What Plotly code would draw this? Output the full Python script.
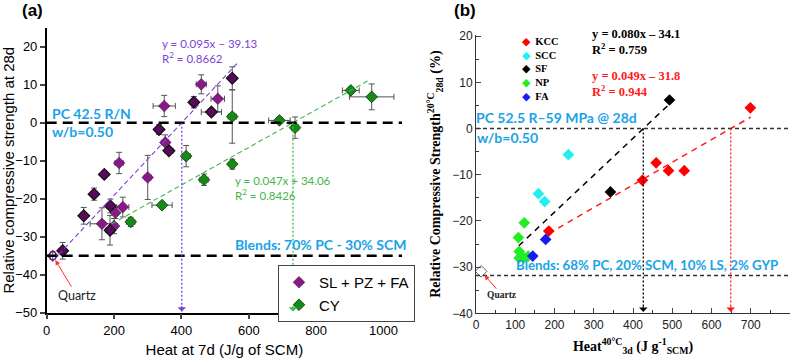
import plotly.graph_objects as go

W, H = 800, 359

# ---------------- Panel (a) data ----------------
# SL + PZ + FA (lighter markers)
slpf_x = [164, 200, 204, 215, 226, 300, 349, 352, 459, 508]
slpf_y = [-26.6, -27.2, -23.7, -10.6, -22.2, -14.4, 4.4, -5.2, 10.1, 6.3]
slpf_xerr = [35, 10, 8, 12, 18, 10, 33, 10, 15, 20]
slpf_yerr = [4.2, 2.0, 1.5, 2.8, 2.6, 5.8, 2.8, 2.0, 2.5, 3.4]
# SL + PZ + FA (darker markers)
slpf2_x = [47.5, 110, 140.5, 171, 188, 189, 333.5, 363, 437, 489, 551]
slpf2_y = [-33.7, -24.5, -18.8, -13.6, -28.3, -21.9, -1.8, -7.4, 5.4, 2.8, 11.7]
slpf2_xerr = [8, 8, 8, 6, 12, 10, 8, 12, 8, 30, 8]
slpf2_yerr = [2.2, 2.2, 1.6, 0.8, 3.9, 1.8, 1.3, 0.8, 1.5, 0.8, 3.0]
# CY
cy_x = [249.5, 342.5, 414, 467, 551, 551, 691, 737.5, 903, 965]
cy_y = [-26.1, -21.7, -8.8, -15.0, -10.9, 1.6, 0.6, -1.3, 8.5, 6.8]
cy_xerr = [12, 30, 12, 12, 5, 12, 32, 10, 25, 66]
cy_yerr = [1.2, 0.8, 2.8, 1.5, 1.3, 7.0, 0.8, 2.8, 0.8, 3.4]
# Quartz
qa_x = [18]
qa_y = [-35.0]
qa_xerr = [8]
qa_yerr = [1.0]

# fitted lines (as drawn): slope, intercept, x-range
fit_a_slope = [0.095, 0.0495]
fit_a_intercept = [-38.1, -36.2]
fit_a_xrange = [[20, 571], [193, 953]]
fit_a_labels = ["y = 0.095x – 39.13<br>R<sup>2</sup> = 0.8662",
                "y = 0.047x + 34.06<br>R<sup>2</sup> = 0.8426"]
a_ref_levels = [0, -35]

# ---------------- Panel (b) data ----------------
b_groups = ["KCC", "SCC", "SF", "NP", "FA"]
kcc_x = [185.5, 424, 459, 490.6, 530.6, 699]
kcc_y = [-22.2, -11.2, -7.4, -9.1, -9.1, 4.5]
scc_x = [159, 175, 235.5]
scc_y = [-14.1, -15.8, -5.65]
sf_x = [342.5, 493]
sf_y = [-13.7, 6.2]
np_x = [108, 110, 110, 122, 123, 133]
np_y = [-23.6, -26.6, -28.0, -28.0, -20.4, -27.6]
fa_x = [144.6, 177.5]
fa_y = [-27.6, -24.0]
qb_x = [13]
qb_y = [-30.9]

fit_b_slope = [0.080, 0.049]
fit_b_intercept = [-34.1, -31.8]
fit_b_xrange = [[109, 493], [185, 700]]
fit_b_labels = ["y = 0.080x – 34.1<br>R<sup>2</sup> = 0.759",
                "y = 0.049x – 31.8<br>R<sup>2</sup> = 0.944"]
b_ref_levels = [0, -31.8]

# ---------------- styling ----------------
PURPLE = "#861A86"
PURPLE_D = "#5A0A5A"
GREEN = "#168A16"
CYAN = "#1AA3E8"
PURPLE_TXT = "#7E3FD6"
GREEN_TXT = "#45B64A"
b_colors = {"KCC": "#FF0000", "SCC": "#22F0F0", "SF": "#000000", "NP": "#22EE22", "FA": "#1A1AF0"}
fit_a_colors = ["#7E3FD6", "#45B64A"]
fit_b_colors = ["#000000", "#FF1A1A"]


def px(x):
    return x / W


def py(y):
    return 1 - y / H


def err(arr):
    return dict(type="data", array=arr, color="#555555", thickness=1, width=3)


fig = go.Figure()

# Panel (a) traces
fig.add_trace(go.Scatter(x=slpf_x, y=slpf_y, mode="markers", name="SL + PZ + FA",
                         error_x=err(slpf_xerr), error_y=err(slpf_yerr),
                         marker=dict(symbol="diamond", size=9, color=PURPLE,
                                     line=dict(color="#3a003a", width=0.5)),
                         xaxis="x", yaxis="y", legendgroup="slpf"))
fig.add_trace(go.Scatter(x=slpf2_x, y=slpf2_y, mode="markers", name="SL + PZ + FA",
                         error_x=err(slpf2_xerr), error_y=err(slpf2_yerr),
                         marker=dict(symbol="diamond", size=9, color=PURPLE_D,
                                     line=dict(color="#111111", width=1.2)),
                         xaxis="x", yaxis="y", legendgroup="slpf", showlegend=False))
fig.add_trace(go.Scatter(x=cy_x, y=cy_y, mode="markers", name="CY",
                         error_x=err(cy_xerr), error_y=err(cy_yerr),
                         marker=dict(symbol="diamond", size=9, color=GREEN,
                                     line=dict(color="#0a3a0a", width=0.8)),
                         xaxis="x", yaxis="y"))
fig.add_trace(go.Scatter(x=qa_x, y=qa_y, mode="markers", name="Quartz", showlegend=False,
                         error_x=err(qa_xerr), error_y=err(qa_yerr),
                         marker=dict(symbol="diamond-open", size=8, color="#5a0a5a",
                                     line=dict(width=1.2)),
                         xaxis="x", yaxis="y"))

for s, b, xr, c in zip(fit_a_slope, fit_a_intercept, fit_a_xrange, fit_a_colors):
    fig.add_trace(go.Scatter(x=xr, y=[s * v + b for v in xr], mode="lines", showlegend=False,
                             line=dict(color=c, width=1.1, dash="5px,3px"),
                             xaxis="x", yaxis="y", hoverinfo="skip"))

# Panel (b) traces
b_data = {"KCC": (kcc_x, kcc_y), "SCC": (scc_x, scc_y), "SF": (sf_x, sf_y),
          "NP": (np_x, np_y), "FA": (fa_x, fa_y)}
for s, b, xr, c in zip(fit_b_slope, fit_b_intercept, fit_b_xrange, fit_b_colors):
    fig.add_trace(go.Scatter(x=xr, y=[s * v + b for v in xr], mode="lines", showlegend=False,
                             line=dict(color=c, width=1.5, dash="6px,5px"),
                             xaxis="x2", yaxis="y2", hoverinfo="skip"))
for g in b_groups:
    gx, gy = b_data[g]
    fig.add_trace(go.Scatter(x=gx, y=gy, mode="markers", name=g, showlegend=False,
                             marker=dict(symbol="diamond", size=9, color=b_colors[g]),
                             xaxis="x2", yaxis="y2"))
fig.add_trace(go.Scatter(x=qb_x, y=qb_y, mode="markers", name="Quartz", showlegend=False,
                         marker=dict(symbol="diamond-open", size=9, color="#666666",
                                     line=dict(width=1)),
                         xaxis="x2", yaxis="y2"))

shapes = []
annotations = []

# reference horizontal lines
for lvl in a_ref_levels:
    shapes.append(dict(type="line", xref="x domain", yref="y", x0=0, x1=1, y0=lvl, y1=lvl,
                       line=dict(color="black", width=2.5, dash="10px,6px")))
for lvl in b_ref_levels:
    shapes.append(dict(type="line", xref="x2 domain", yref="y2", x0=0, x1=1, y0=lvl, y1=lvl,
                       line=dict(color="#333333", width=1.5, dash="4px,3px")))

# vertical dotted arrows at zero crossing
A_YMIN, B_YMIN = -50, -40
for s, b, c in zip(fit_a_slope, fit_a_intercept, fit_a_colors):
    xc = -b / s
    shapes.append(dict(type="line", xref="x", yref="y", x0=xc, x1=xc, y0=0, y1=A_YMIN + 0.3,
                       line=dict(color=c, width=1.3, dash="2px,2px")))
    annotations.append(dict(x=xc, y=A_YMIN + 0.3, xref="x", yref="y", text="", showarrow=True,
                            ax=0, ay=-7, arrowhead=1, arrowsize=1.3, arrowwidth=1.1,
                            arrowcolor=c, standoff=0))
for s, b, c in zip(fit_b_slope, fit_b_intercept, fit_b_colors):
    xc = -b / s
    shapes.append(dict(type="line", xref="x2", yref="y2", x0=xc, x1=xc, y0=0, y1=B_YMIN + 0.3,
                       line=dict(color=c, width=1.3, dash="2px,2px")))
    annotations.append(dict(x=xc, y=B_YMIN + 0.3, xref="x2", yref="y2", text="", showarrow=True,
                            ax=0, ay=-7, arrowhead=1, arrowsize=1.3, arrowwidth=1.1,
                            arrowcolor=c, standoff=0))


def label(text, x, y, size, color, family, xanchor="left", yanchor="middle"):
    annotations.append(dict(text=text, x=px(x), y=py(y), xref="paper", yref="paper",
                            xanchor=xanchor, yanchor=yanchor, showarrow=False, align="left",
                            font=dict(size=size, color=color, family=family), borderpad=0))


SANS = "Liberation Sans, Arial"
CAL = "Lato, Open Sans"
SERIF = "Liberation Serif, Times New Roman"

# panel (a) labels
label("<b>(a)</b>", 21, 11, 17, "black", SANS)
label(fit_a_labels[0], 161, 51, 11.5, PURPLE_TXT, CAL)
label(fit_a_labels[1], 234, 188, 11.5, GREEN_TXT, CAL)
label("<b>PC 42.5 R/N</b>", 51, 113.5, 14, CYAN, CAL)
label("<b>w/b=0.50</b>", 51, 131.5, 14, CYAN, CAL)
label("<b>Blends: 70% PC - 30% SCM</b>", 234, 244.5, 14, CYAN, CAL)
annotations.append(dict(x=qa_x[0], y=qa_y[0], xref="x", yref="y", text="Quartz",
                        showarrow=True, ax=24, ay=40, arrowhead=2, arrowsize=1, arrowwidth=1,
                        arrowcolor="#FF3030", standoff=5,
                        font=dict(size=12.5, color="#222222", family=CAL)))

# panel (b) labels
label("<b>(b)</b>", 453, 11, 17, "black", SANS)
label("<b>" + fit_b_labels[0] + "</b>", 591, 41.5, 12.5, "black", SERIF)
label("<b>" + fit_b_labels[1] + "</b>", 591, 83.5, 12.5, "#FF1A1A", SERIF)
label("<b>PC 52.5 R–59 MPa @ 28d</b>", 475, 117.5, 14, CYAN, CAL)
label("<b>w/b=0.50</b>", 476, 137, 14, CYAN, CAL)
label("<b>Blends: 68% PC, 20% SCM, 10% LS, 2% GYP</b>", 515, 264.5, 13.3, CYAN, CAL)
legend_b = "<br>".join(
    "<span style='color:%s'>◆</span>  <b>%s</b>" % (b_colors[g], g) for g in b_groups)
label(legend_b, 521, 69.5, 10.5, "black", SERIF)
annotations.append(dict(x=qb_x[0], y=qb_y[0], xref="x2", yref="y2", text="<b>Quartz</b>",
                        showarrow=True, ax=21, ay=24, arrowhead=2, arrowsize=1, arrowwidth=1,
                        arrowcolor="#FF3030", standoff=5,
                        font=dict(size=9.5, color="#222222", family=SERIF)))

axis_common = dict(showgrid=False, zeroline=False, showline=True, automargin=False)

fig.update_layout(
    width=W, height=H,
    margin=dict(l=0, r=0, t=0, b=0),
    paper_bgcolor="white", plot_bgcolor="white",
    showlegend=True,
    legend=dict(x=px(278), y=py(265), xanchor="left", yanchor="top",
                bgcolor="white", bordercolor="#444444", borderwidth=1,
                font=dict(size=15, family=SANS, color="black"),
                tracegroupgap=0),
    xaxis=dict(domain=[px(46.7), px(402)], range=[0, 1055], anchor="y",
               tickvals=[0, 200, 400, 600, 800, 1000], ticks="outside", ticklen=5, tickwidth=1.5,
               linecolor="black", linewidth=1.5,
               tickfont=dict(size=13, family=SANS, color="black"),
               title=dict(text="Heat at 7d (J/g of SCM)", standoff=7,
                          font=dict(size=15, family=SANS, color="black")),
               **axis_common),
    yaxis=dict(domain=[py(312.7), py(27.7)], range=[-50, 25], anchor="x",
               dtick=10, tick0=0, ticks="outside", ticklen=5, tickwidth=1.5,
               linecolor="black", linewidth=1.5,
               tickfont=dict(size=13, family=SANS, color="black"),
               title=dict(text="Relative compressive strength at 28d", standoff=4,
                          font=dict(size=15, family=SANS, color="black")),
               **axis_common),
    xaxis2=dict(domain=[px(476), px(790)], range=[0, 800], anchor="y2",
                dtick=100, tick0=0, ticks="inside", ticklen=5, tickwidth=1,
                minor=dict(dtick=50, ticks="inside", ticklen=3, tickcolor="#333333"),
                linecolor="#333333", linewidth=1,
                tickfont=dict(size=12, family=SANS, color="#222222"),
                title=dict(text="<b>Heat<sup>40°C</sup><sub>3d</sub> (J g<sup>-1</sup><sub>SCM</sub>)</b>",
                           standoff=10, font=dict(size=14, family=SERIF, color="black")),
                **axis_common),
    yaxis2=dict(domain=[py(313.3), py(34.9)], range=[-40, 20.3], anchor="x2",
                dtick=10, tick0=0, ticks="inside", ticklen=5, tickwidth=1,
                minor=dict(dtick=5, ticks="inside", ticklen=3, tickcolor="#333333"),
                linecolor="#333333", linewidth=1,
                tickfont=dict(size=12, family=SANS, color="#222222"),
                title=dict(text="<b>Relative Compressive Strength<sup>20°C</sup><sub>28d</sub> (%)</b>",
                           standoff=8, font=dict(size=14, family=SERIF, color="black")),
                **axis_common),
    shapes=shapes,
    annotations=annotations,
)

fig.write_html("out.html")
